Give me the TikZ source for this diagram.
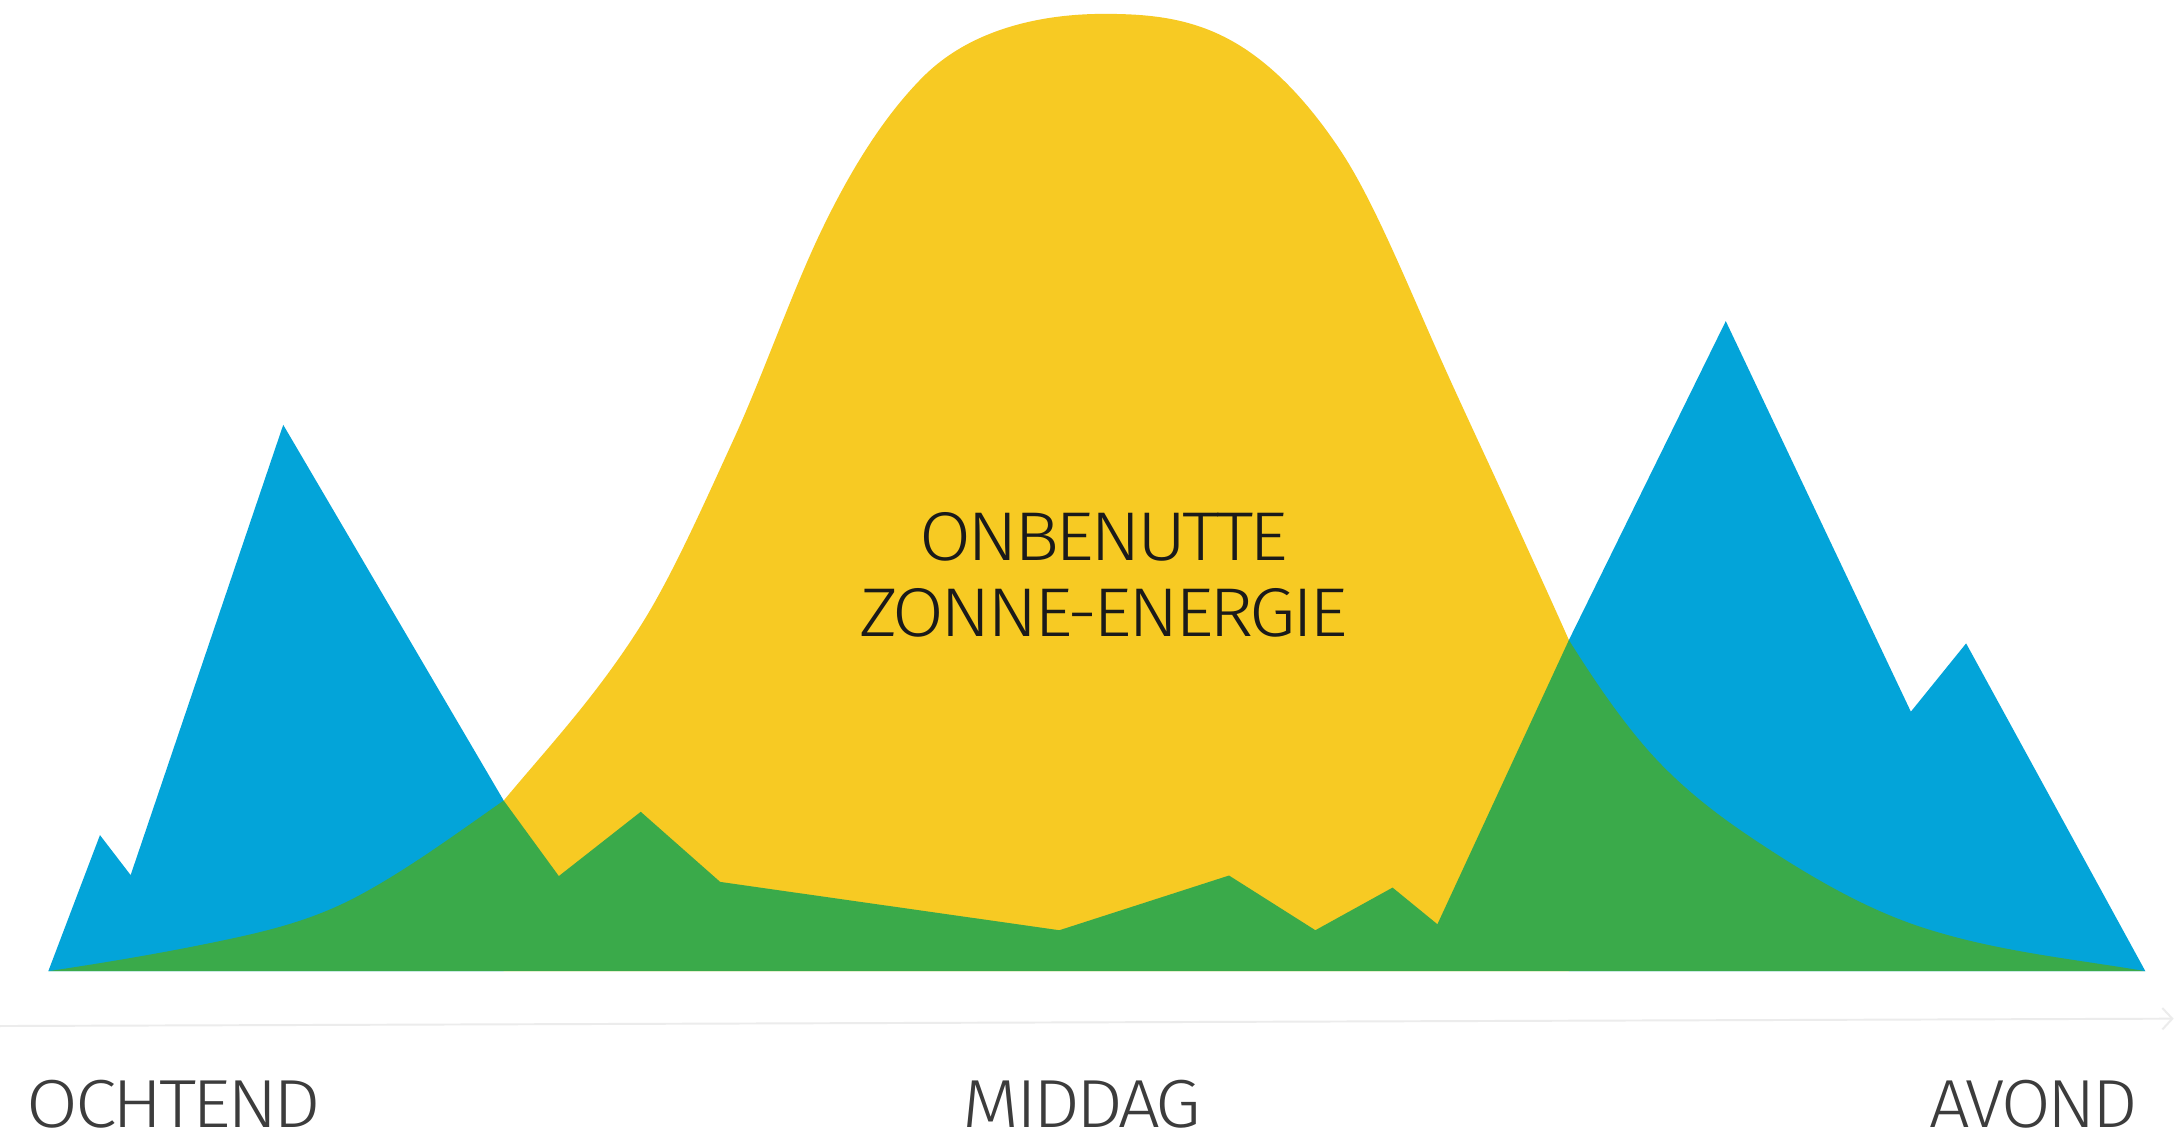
\documentclass[tikz,border=0pt]{standalone}
\usepackage{fontspec}
\setmainfont{Liberation Sans}
\newfontfamily\lblfont[LetterSpace=-5]{Fira Sans Light}
\usetikzlibrary{arrows.meta}
\definecolor{sunyellow}{RGB}{247,202,35}
\definecolor{useblue}{RGB}{3,164,217}
\definecolor{solargreen}{RGB}{58,170,74}
\definecolor{axisgray}{RGB}{236,236,236}
\definecolor{labelgray}{RGB}{60,60,60}
\definecolor{midtext}{RGB}{26,26,26}
\tikzset{
  axisline/.style={draw=axisgray, line width=0.7pt, -{Straight Barb[length=3.6pt,width=7.7pt]}},
  timelabel/.style={anchor=south west, inner sep=0pt, text=labelgray, font=\lblfont\fontsize{23}{27.6}\selectfont},
  midlabel/.style={anchor=north, inner sep=0pt, align=center, text=midtext, font=\lblfont\fontsize{23}{27.6}\selectfont}
}
\begin{document}
\begin{tikzpicture}[x=0.5pt,y=-0.5pt]
\fill[white] (0,0) rectangle (1568,823.3);
\useasboundingbox (0,0) rectangle (1568,823.3);
% yellow: solar production
\fill[sunyellow] (362.8,576.6)
  .. controls (395.5,537.3) and (428.3,502.8) .. (461,451.4)
  .. controls (483.4,416.2) and (505.8,365.7) .. (528.2,316.9)
  .. controls (549.0,271.5) and (569.9,211.7) .. (590.7,168)
  .. controls (615.5,116) and (640.2,80) .. (665,55.2)
  .. controls (700,20.2) and (751.7,10) .. (795,10)
  .. controls (822.1,10) and (849.3,11.8) .. (876.4,24)
  .. controls (906,37.3) and (935.6,63.6) .. (965.2,108)
  .. controls (988.4,142.8) and (1011.6,199.9) .. (1034.8,252.1)
  .. controls (1052.4,291.7) and (1070,328.7) .. (1087.6,367.4)
  .. controls (1101.7,398.5) and (1115.9,429.2) .. (1130,461)
  -- (1130,699.5) -- (362.8,699.5) -- cycle;
% blue: consumption
\fill[useblue] (34.8,699.5) -- (72,601.5) -- (94.1,630.3) -- (204,306) -- (362.8,576.6) -- (362.8,699.5) -- cycle;
\fill[useblue] (1130,461) -- (1243,231.3) -- (1376.3,512.6) -- (1416.1,463.4) -- (1545.2,699.5) -- (1130,699.5) -- cycle;
% green: direct use
\fill[solargreen] (34.8,699.5)
  .. controls (80.8,692.6) and (126.9,684.8) .. (172.9,674.7)
  .. controls (200.9,668.5) and (228.9,660.7) .. (256.9,645.9)
  .. controls (292.2,627.2) and (327.5,601.3) .. (362.8,576.6)
  -- (402.5,631) -- (461.5,584.7) -- (518.7,635.2) -- (763,670) -- (885.2,630.6)
  -- (947.4,670) -- (1003,639.3) -- (1035.3,665.7) -- (1130,461)
  .. controls (1151.9,496) and (1173.8,527.2) .. (1195.7,549.8)
  .. controls (1222.1,577.0) and (1248.6,595.1) .. (1275,612.3)
  .. controls (1311,635.7) and (1347,655.6) .. (1383,667.5)
  .. controls (1437.1,685.3) and (1491.1,690.3) .. (1545.2,699.5)
  -- cycle;
% time axis
\coordinate (axl) at (0,739);
\coordinate (axr) at (1565.6,733.7);
\draw[axisline] (axl) -- (axr);
% labels
\node[midlabel] (unused) at (795,368.5)
  {\resizebox{133pt}{17.3pt}{ONBENUTTE}\\\resizebox{176pt}{17.3pt}{ZONNE-ENERGIE}};
\node[timelabel] (morning) at (19,813.2) {\resizebox{106pt}{17.05pt}{OCHTEND}};
\node[timelabel] (noon) at (693,813.2) {\resizebox{86pt}{17.05pt}{MIDDAG}};
\node[timelabel] (evening) at (1389.5,813.2) {\resizebox{74.75pt}{17.05pt}{AVOND}};
\end{tikzpicture}
\end{document}
